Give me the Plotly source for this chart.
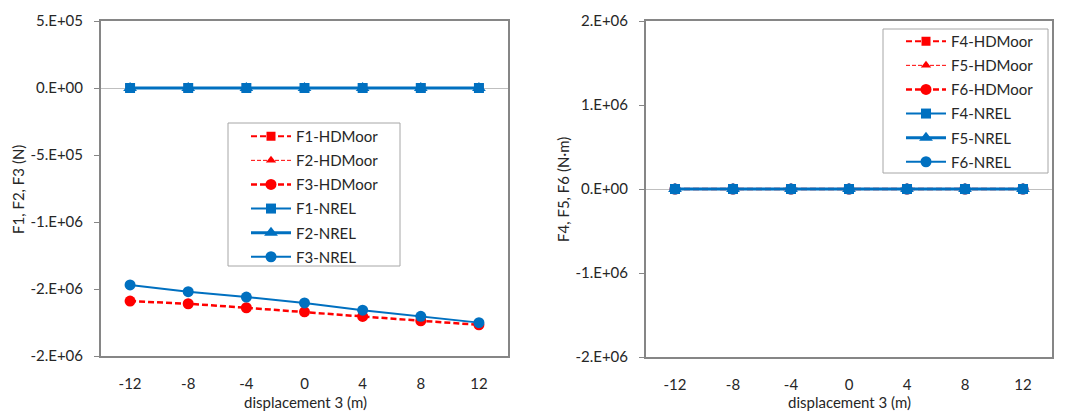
import plotly.graph_objects as go

displacement = [-12, -8, -4, 0, 4, 8, 12]

# Left chart (forces, N)
F1_HDMoor = [0, 0, 0, 0, 0, 0, 0]
F2_HDMoor = [0, 0, 0, 0, 0, 0, 0]
F3_HDMoor = [-1.59e6, -1.61e6, -1.64e6, -1.67e6, -1.705e6, -1.737e6, -1.767e6]
F1_NREL = [0, 0, 0, 0, 0, 0, 0]
F2_NREL = [0, 0, 0, 0, 0, 0, 0]
F3_NREL = [-1.47e6, -1.52e6, -1.56e6, -1.604e6, -1.658e6, -1.704e6, -1.751e6]

# Right chart (moments, N·m)
F4_HDMoor = [0, 0, 0, 0, 0, 0, 0]
F5_HDMoor = [0, 0, 0, 0, 0, 0, 0]
F6_HDMoor = [0, 0, 0, 0, 0, 0, 0]
F4_NREL = [0, 0, 0, 0, 0, 0, 0]
F5_NREL = [0, 0, 0, 0, 0, 0, 0]
F6_NREL = [0, 0, 0, 0, 0, 0, 0]

left_tickvals = [5e5, 0, -5e5, -1e6, -1.5e6, -2e6]
left_ticktext = ["5.E+05", "0.E+00", "-5.E+05", "-1.E+06", "-2.E+06", "-2.E+06"]
right_tickvals = [2e6, 1e6, 0, -1e6, -2e6]
right_ticktext = ["2.E+06", "1.E+06", "0.E+00", "-1.E+06", "-2.E+06"]
x_ticks = [-12, -8, -4, 0, 4, 8, 12]

x_title = "displacement 3 (m)"
left_y_title = "F1, F2, F3 (N)"
right_y_title = "F4, F5, F6 (N·m)"

RED = "#FF0000"
BLUE = "#0070C0"
FONT = "Lato"
TXT = "#262626"

fig = go.Figure()

def add(name, y, color, dash, width, symbol, msize, xa, ya, legend):
    fig.add_trace(go.Scatter(
        x=displacement, y=y, name=name, mode="lines+markers",
        line=dict(color=color, dash=dash, width=width),
        marker=dict(symbol=symbol, size=msize, color=color),
        xaxis=xa, yaxis=ya, legend=legend, legendgroup=name))

DASH = "6px,3px"
DASH_THIN = "4px,2px"

add("F1-HDMoor", F1_HDMoor, RED, DASH, 2, "square", 9, "x", "y", "legend")
add("F2-HDMoor", F2_HDMoor, RED, DASH_THIN, 1, "triangle-up", 9, "x", "y", "legend")
add("F3-HDMoor", F3_HDMoor, RED, DASH, 2.5, "circle", 11, "x", "y", "legend")
add("F1-NREL", F1_NREL, BLUE, "solid", 2, "square", 10, "x", "y", "legend")
add("F2-NREL", F2_NREL, BLUE, "solid", 3, "triangle-up", 12, "x", "y", "legend")
add("F3-NREL", F3_NREL, BLUE, "solid", 2, "circle", 11, "x", "y", "legend")

add("F4-HDMoor", F4_HDMoor, RED, DASH, 2, "square", 9, "x2", "y2", "legend2")
add("F5-HDMoor", F5_HDMoor, RED, DASH_THIN, 1, "triangle-up", 9, "x2", "y2", "legend2")
add("F6-HDMoor", F6_HDMoor, RED, DASH, 2.5, "circle", 11, "x2", "y2", "legend2")
add("F4-NREL", F4_NREL, BLUE, "solid", 2, "square", 10, "x2", "y2", "legend2")
add("F5-NREL", F5_NREL, BLUE, "solid", 3, "triangle-up", 12, "x2", "y2", "legend2")
add("F6-NREL", F6_NREL, BLUE, "solid", 2, "circle", 11, "x2", "y2", "legend2")

# page body has an 8px margin: figure is placed at (8, 8)
OFF = 8
W, H = 1064, 408
def fx(px):
    return (px - OFF) / W
def fy(py):
    return 1 - (py - OFF) / H

axis_common = dict(showline=True, mirror=True, linecolor="#868686", linewidth=2,
                   showgrid=False, automargin=False,
                   tickfont=dict(family=FONT, size=15, color=TXT))

xcommon = dict(axis_common, range=[-14, 14], tickvals=x_ticks,
               ticktext=[str(v) for v in x_ticks], ticks="", zeroline=False,
               ticklabelstandoff=13)

ycommon = dict(axis_common, ticks="outside", ticklen=5, tickcolor="#868686", tickwidth=1,
               zeroline=True, zerolinecolor="#BFBFBF", zerolinewidth=1,
               ticklabelstandoff=8)

leg_font = dict(family=FONT, size=15, color=TXT)

fig.update_layout(
    width=W, height=H,
    margin=dict(l=0, r=0, t=0, b=0),
    paper_bgcolor="white", plot_bgcolor="white",
    font=dict(family=FONT, size=15, color=TXT),
    xaxis=dict(xcommon, domain=[fx(101), fx(508)], anchor="y"),
    xaxis2=dict(xcommon, domain=[fx(646), fx(1052)], anchor="y2"),
    yaxis=dict(ycommon, domain=[fy(356), fy(21)], anchor="x",
               range=[-2e6, 5e5], tickvals=left_tickvals, ticktext=left_ticktext),
    yaxis2=dict(ycommon, domain=[fy(357), fy(21)], anchor="x2",
                range=[-2e6, 2e6], tickvals=right_tickvals, ticktext=right_ticktext),
    legend=dict(x=fx(246), y=fy(120), xanchor="left", yanchor="top",
                borderwidth=0, bgcolor="rgba(0,0,0,0)", font=leg_font,
                itemwidth=40, tracegroupgap=1.6),
    legend2=dict(x=fx(901), y=fy(25), xanchor="left", yanchor="top",
                 borderwidth=0, bgcolor="rgba(0,0,0,0)", font=leg_font,
                 itemwidth=40, tracegroupgap=1.6),
    showlegend=True,
)

# legend frames
for x0, y0, x1, y1 in [(228, 123, 400, 266), (883, 29, 1048, 173)]:
    fig.add_shape(type="rect", xref="paper", yref="paper",
                  x0=fx(x0), x1=fx(x1), y0=fy(y1), y1=fy(y0),
                  line=dict(color="#A6A6A6", width=1), fillcolor="white", layer="above")

title_font = dict(family=FONT, size=15, color=TXT)
fig.add_annotation(text=x_title, x=fx(305), y=fy(402), xref="paper", yref="paper",
                   xanchor="center", yanchor="middle", showarrow=False, font=title_font)
fig.add_annotation(text=x_title, x=fx(849), y=fy(402), xref="paper", yref="paper",
                   xanchor="center", yanchor="middle", showarrow=False, font=title_font)
fig.add_annotation(text=left_y_title, x=fx(18), y=fy(190), xref="paper", yref="paper",
                   xanchor="center", yanchor="middle", showarrow=False, font=title_font,
                   textangle=-90)
fig.add_annotation(text=right_y_title, x=fx(563), y=fy(190), xref="paper", yref="paper",
                   xanchor="center", yanchor="middle", showarrow=False, font=title_font,
                   textangle=-90)

fig.write_html("out.html")
